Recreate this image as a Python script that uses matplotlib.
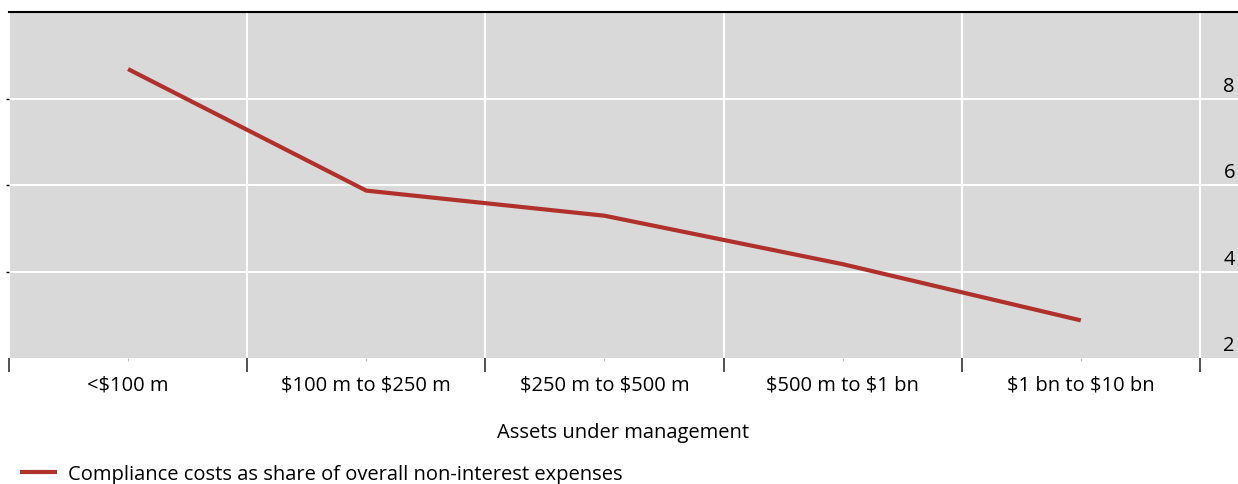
import matplotlib
matplotlib.use('Agg')
import matplotlib.pyplot as plt

# data
categories = ['<$100 m', '$100 m to $250 m', '$250 m to $500 m', '$500 m to $1 bn', '$1 bn to $10 bn']
share = [8.68, 5.87, 5.29, 4.17, 2.87]
y_labels = [2, 4, 6, 8]

plt.rcParams['font.family'] = ['Open Sans', 'DejaVu Sans']
plt.rcParams['text.parse_math'] = False

fs = 14.5

fig = plt.figure(figsize=(12.38, 4.85), dpi=100)
ax = fig.add_axes([9 / 1238, 126 / 485, 1 - 9 / 1238, 346 / 485])
ax.set_facecolor('#d9d9d9')

x = list(range(len(categories)))
ax.plot(x, share, color='#b0302c', linewidth=3.0, solid_capstyle='butt',
        label='Compliance costs as share of overall non-interest expenses', zorder=3)

ax.set_xlim(-0.5, 4.66)
ax.set_ylim(2, 10)

# category boundaries as minor ticks + vertical grid
bounds = [i - 0.5 for i in range(len(categories) + 1)]
ax.set_xticks(x)
ax.set_xticklabels(categories, fontsize=fs)
ax.set_xticks(bounds, minor=True)
ax.tick_params(axis='x', which='major', length=2, color='#bbbbbb', pad=10)
ax.tick_params(axis='x', which='minor', length=10, width=1.2, color='#333333', direction='out')
ax.xaxis.grid(True, which='minor', color='white', linewidth=1.5)

ax.set_yticks([4, 6, 8])
ax.set_yticklabels([])
ax.tick_params(axis='y', length=2, width=1, color='black')
ax.yaxis.grid(True, color='white', linewidth=1.5)
ax.set_axisbelow(True)

for v in y_labels:
    ax.text(0.9975, v + 0.06, str(v), transform=ax.get_yaxis_transform(),
            ha='right', va='bottom', fontsize=fs, color='black')

for s in ['left', 'right', 'bottom']:
    ax.spines[s].set_visible(False)
ax.spines['top'].set_color('black')
ax.spines['top'].set_linewidth(1.5)

ax.set_xlabel('Assets under management', fontsize=fs, labelpad=20)

leg = fig.legend(loc='center left', bbox_to_anchor=(20 / 1238, 10 / 485), frameon=False,
                 fontsize=fs, handlelength=1.85, handletextpad=0.55,
                 borderpad=0, borderaxespad=0)

fig.savefig('out.png', dpi=100)
